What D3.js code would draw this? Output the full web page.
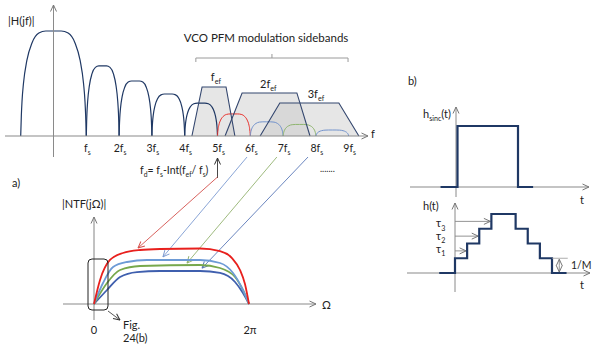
<!DOCTYPE html>
<html>
<head>
<meta charset="utf-8">
<script src="https://cdn.jsdelivr.net/npm/d3@7"></script>
<style>
  body { margin: 0; background: #fff; }
  text { font-family: Lato, "Open Sans", sans-serif; fill: #222; }
</style>
</head>
<body>
<div id="chart"></div>
<script>
// ---- top panel |H(jf)|, frequencies in multiples of fs
const lobeStarts = [-1, 1, 2, 3, 4, 5, 6, 7, 8];
const lobeEnds = [1, 2, 3, 4, 5, 6, 7, 8, 9];
const lobePeaks = [1, 0.667, 0.524, 0.40, 0.314, 0.21, 0.135, 0.11, 0.057];
const lobeColors = ["#1f3864", "#1f3864", "#1f3864", "#1f3864", "#1f3864", "#e8312c", "#7393cc", "#8fb56f", "#7393cc"];
// half-lobe outline (position across lobe, relative height)
const lobeProfile = [[0, 0], [0.01, 0.2], [0.02, 0.33], [0.042, 0.5], [0.094, 0.72], [0.172, 0.886], [0.277, 0.98], [0.382, 1], [0.5, 1]];

const tickMults = [1, 2, 3, 4, 5, 6, 7, 8, 9];
const tickNames = ["f", "2f", "3f", "4f", "5f", "6f", "7f", "8f", "9f"];

// VCO PFM sidebands (trapezoids)
const bandNames = [["f", "ef"], ["2f", "ef"], ["3f", "ef"]];
const bandEdges = [[4.22, 4.53, 5.26, 5.53], [5.23, 5.75, 7.42, 7.82], [6.30, 6.90, 8.70, 9.31]];
const bandHeights = [0.467, 0.41, 0.314];
const bandLabelPos = [4.95, 6.55, 8.0];

// ---- NTF panel, Ω as a fraction of 2π
const ntfColors = ["#e8201d", "#6d9bd6", "#77a84c", "#3f5fae"];
const ntfRed = [[0, 0], [0.039, 0.43], [0.103, 0.786], [0.187, 0.911], [0.297, 0.964], [0.426, 0.982], [0.684, 0.991], [0.813, 0.946], [0.890, 0.82], [0.942, 0.607], [0.974, 0.357], [1, 0]];
const ntfBlue = [[0, 0], [0.058, 0.375], [0.123, 0.661], [0.213, 0.75], [0.342, 0.786], [0.684, 0.786], [0.813, 0.732], [0.897, 0.554], [0.961, 0.25], [1, 0]];
const ntfGreen = [[0, 0], [0.084, 0.375], [0.168, 0.607], [0.297, 0.679], [0.684, 0.696], [0.813, 0.643], [0.910, 0.482], [0.961, 0.25], [1, 0]];
const ntfNavy = [[0, 0], [0.084, 0.25], [0.168, 0.482], [0.277, 0.571], [0.426, 0.589], [0.684, 0.589], [0.813, 0.554], [0.910, 0.393], [0.961, 0.196], [1, 0]];

// arrows from the sideband lobes down to the NTF curves
const linkColors = ["#d4504c", "#7d9bd1", "#93b26f", "#5a78b8"];
const linkFrom = [5, 5.9, 6.81, 7.76];
const linkTo = [[0.284, 1.0], [0.445, 0.84], [0.6, 0.73], [0.697, 0.64]];

// ---- panel b)
const sincPts = [[-0.28, 0], [0, 1], [1, 0], [1.25, 0]];
const stepPts = [[-1.3, 0], [0, 1], [1, 2], [2, 3], [3, 4], [5, 3], [6, 2], [7, 1], [8, 0], [9.2, 0]];
const tauSteps = [1, 2, 3];

const W = 592, H = 345;
const axisCol = "#8a8a8a";
const navy = "#1f3864";

const svg = d3.select("#chart").append("svg")
  .attr("width", W).attr("height", H)
  .style("background", "#fff");

const defs = svg.append("defs");
function marker(id, color) {
  defs.append("marker")
    .attr("id", id)
    .attr("viewBox", "0 0 8 8")
    .attr("refX", 7.5).attr("refY", 4)
    .attr("markerWidth", 8).attr("markerHeight", 8)
    .attr("markerUnits", "userSpaceOnUse")
    .attr("orient", "auto")
    .append("path")
    .attr("d", "M1,1 L7.5,4 L1,7")
    .attr("fill", "none")
    .attr("stroke", color)
    .attr("stroke-width", 1);
  return `url(#${id})`;
}
const arrAxis = marker("ax", "#777");
const arrDark = marker("dk", "#333");
const linkArr = linkColors.map((c, i) => marker("lk" + i, c));

// text with subscripts: plain strings are normal, [str] is subscript
function rich(g, x, y, parts, size, anchor = "start") {
  const t = g.append("text")
    .attr("x", x).attr("y", y)
    .attr("font-size", size)
    .attr("text-anchor", anchor);
  let low = false;
  parts.forEach(p => {
    const sub = Array.isArray(p);
    const s = t.append("tspan").text(sub ? p[0] : p);
    if (sub) {
      s.attr("font-size", size * 0.65);
      if (!low) s.attr("dy", size * 0.3);
      low = true;
    } else if (low) {
      s.attr("dy", -size * 0.3);
      low = false;
    }
  });
  return t;
}

function arrowLine(g, x1, y1, x2, y2, color, width, mk) {
  return g.append("line")
    .attr("x1", x1).attr("y1", y1).attr("x2", x2).attr("y2", y2)
    .attr("stroke", color).attr("stroke-width", width)
    .attr("marker-end", mk);
}

// ================= top panel =================
const topG = svg.append("g");
const xT = d3.scaleLinear().domain([0, 9]).range([53.5, 53.5 + 9 * 32.8]);
const yT = d3.scaleLinear().domain([0, 1]).range([136, 31]);

// sideband fills
const trap = (e, h) => [[e[0], 0], [e[1], h], [e[2], h], [e[3], 0]];
const trapLine = d3.line().x(d => xT(d[0])).y(d => yT(d[1]));
bandEdges.forEach((e, i) => {
  topG.append("path")
    .attr("d", trapLine(trap(e, bandHeights[i])) + "Z")
    .attr("fill", "#c8c8c8")
    .attr("fill-opacity", 0.45)
    .attr("stroke", "none");
});

// lobes
const fullProfile = lobeProfile.concat(lobeProfile.slice(0, -1).reverse().map(d => [1 - d[0], d[1]]));
lobeStarts.forEach((s, i) => {
  const w = lobeEnds[i] - s;
  const pts = fullProfile.map(d => [s + d[0] * w, d[1] * lobePeaks[i]]);
  topG.append("path")
    .attr("d", d3.line().x(d => xT(d[0])).y(d => yT(d[1])).curve(d3.curveMonotoneX)(pts))
    .attr("fill", "none")
    .attr("stroke", lobeColors[i])
    .attr("stroke-width", i < 5 ? 1.2 : 1);
});

// sideband outlines
bandEdges.forEach((e, i) => {
  topG.append("path")
    .attr("d", trapLine(trap(e, bandHeights[i])))
    .attr("fill", "none")
    .attr("stroke", "#33466e")
    .attr("stroke-width", 1.1);
  rich(topG, xT(bandLabelPos[i]), yT(bandHeights[i]) - [6, 5, 5][i], [bandNames[i][0], [bandNames[i][1]]], 11, "middle");
});

// axes
arrowLine(topG, 5, yT(0), 368, yT(0), axisCol, 1.2, arrAxis);
arrowLine(topG, xT(0), 157, xT(0), 5, axisCol, 1, arrAxis);
topG.append("text").attr("x", 371).attr("y", 138).attr("font-size", 11).text("f");
topG.append("text").attr("x", 8).attr("y", 25).attr("font-size", 11).text("|H(jf)|");

tickMults.forEach((m, i) => {
  rich(topG, xT(m) + 1, 152, [tickNames[i], ["s"]], 10.5, "middle");
});

// bracket
const bx0 = xT(4.34), bx1 = xT(8.98), bm = xT(6.66);
topG.append("path")
  .attr("d", `M${bx0},62 V58 H${bx1} V62 M${bm},58 V54`)
  .attr("fill", "none").attr("stroke", "#9a9a9a").attr("stroke-width", 1);
topG.append("text").attr("x", 266).attr("y", 42).attr("font-size", 11.5)
  .attr("text-anchor", "middle").text("VCO PFM modulation sidebands");

rich(topG, 140, 174, ["f", ["d"], "= f", ["s"], "-Int(f", ["ef"], "/ f", ["s"], ")"], 10.5);
arrowLine(topG, xT(5), 178, xT(5), 158, "#333", 0.9, arrDark);
topG.append("text").attr("x", 320).attr("y", 172).attr("font-size", 9).text(".......");

// ================= NTF panel =================
const ntf = svg.append("g");
const xN = d3.scaleLinear().domain([0, 1]).range([94, 249]);
const yN = d3.scaleLinear().domain([0, 1]).range([304, 248]);

// link arrows
linkFrom.forEach((f, i) => {
  const y0 = i === 0 ? 177 : 157;
  arrowLine(ntf, xT(f), y0, xN(linkTo[i][0]), yN(linkTo[i][1]), linkColors[i], 0.9, linkArr[i]);
});

arrowLine(ntf, 63, yN(0), 316, yN(0), axisCol, 1.2, arrAxis);
arrowLine(ntf, xN(0), 320, xN(0), 217, "#777", 0.9, arrAxis);

const ntfLine = d3.line().x(d => xN(d[0])).y(d => yN(d[1])).curve(d3.curveMonotoneX);
[ntfNavy, ntfGreen, ntfBlue, ntfRed].forEach((c, k) => {
  ntf.append("path")
    .attr("d", ntfLine(c))
    .attr("fill", "none")
    .attr("stroke", ntfColors[3 - k])
    .attr("stroke-width", 1.8);
});

ntf.append("rect")
  .attr("x", 88).attr("y", 259).attr("width", 20).attr("height", 51)
  .attr("rx", 4)
  .attr("fill", "none").attr("stroke", "#222").attr("stroke-width", 1);
arrowLine(ntf, 108, 311, 120, 320, "#444", 0.9, arrDark);

ntf.append("text").attr("x", 12).attr("y", 187).attr("font-size", 11).text("a)");
ntf.append("text").attr("x", 62).attr("y", 208).attr("font-size", 11).text("|NTF(jΩ)|");
ntf.append("text").attr("x", xN(0)).attr("y", 334).attr("font-size", 11).attr("text-anchor", "middle").text("0");
ntf.append("text").attr("x", xN(1) + 1).attr("y", 334).attr("font-size", 11).attr("text-anchor", "middle").text("2π");
ntf.append("text").attr("x", 322).attr("y", 309).attr("font-size", 11).text("Ω");
ntf.append("text").attr("x", 123).attr("y", 329).attr("font-size", 11).text("Fig.");
ntf.append("text").attr("x", 123).attr("y", 342).attr("font-size", 11).text("24(b)");

// ================= panel b) =================
const pb = svg.append("g");
pb.append("text").attr("x", 408).attr("y", 85).attr("font-size", 11).text("b)");

// h_sinc(t)
const xS = d3.scaleLinear().domain([0, 1]).range([457.5, 518]);
const yS = d3.scaleLinear().domain([0, 1]).range([187, 126]);
arrowLine(pb, 410, yS(0), 589, yS(0), axisCol, 1.2, arrAxis);
arrowLine(pb, 456, 197, 456, 107, axisCol, 1, arrAxis);
pb.append("path")
  .attr("d", d3.line().x(d => xS(d[0])).y(d => yS(d[1])).curve(d3.curveStepAfter)(sincPts))
  .attr("fill", "none").attr("stroke", navy).attr("stroke-width", 2.2);
rich(pb, 423, 118, ["h", ["sinc"], "(t)"], 11);
pb.append("text").attr("x", 580).attr("y", 204).attr("font-size", 11).text("t");

// h(t) staircase
const xH = d3.scaleLinear().domain([0, 8]).range([455, 552]);
const yH = d3.scaleLinear().domain([0, 4]).range([273, 214]);
arrowLine(pb, 407, yH(0), 590, yH(0), axisCol, 1.2, arrAxis);
arrowLine(pb, 455, 292, 455, 203, axisCol, 1, arrAxis);

tauSteps.forEach((k, i) => {
  arrowLine(pb, 455, yH(k + 0.5), xH(k) - 1, yH(k + 0.5), "#888", 0.9, arrAxis);
  rich(pb, 436, yH(k + 0.5) + [2, 4, 6][i], ["τ", [String(k)]], 11);
});

pb.append("path")
  .attr("d", d3.line().x(d => xH(d[0])).y(d => yH(d[1])).curve(d3.curveStepAfter)(stepPts))
  .attr("fill", "none").attr("stroke", navy).attr("stroke-width", 2.2);

// 1/M step height marker
pb.append("line")
  .attr("x1", xH(8)).attr("x2", xH(9.3)).attr("y1", yH(1)).attr("y2", yH(1))
  .attr("stroke", "#999").attr("stroke-width", 0.8);
const mx = xH(8.6);
arrowLine(pb, mx, yH(0.5), mx, yH(1) + 1, "#777", 0.8, arrAxis);
arrowLine(pb, mx, yH(0.5), mx, yH(0) - 1, "#777", 0.8, arrAxis);
pb.append("text").attr("x", 571).attr("y", 269).attr("font-size", 10.5).text("1/M");

rich(pb, 423, 210, ["h(t)"], 11);
pb.append("text").attr("x", 580).attr("y", 289).attr("font-size", 11).text("t");
</script>
</body>
</html>
